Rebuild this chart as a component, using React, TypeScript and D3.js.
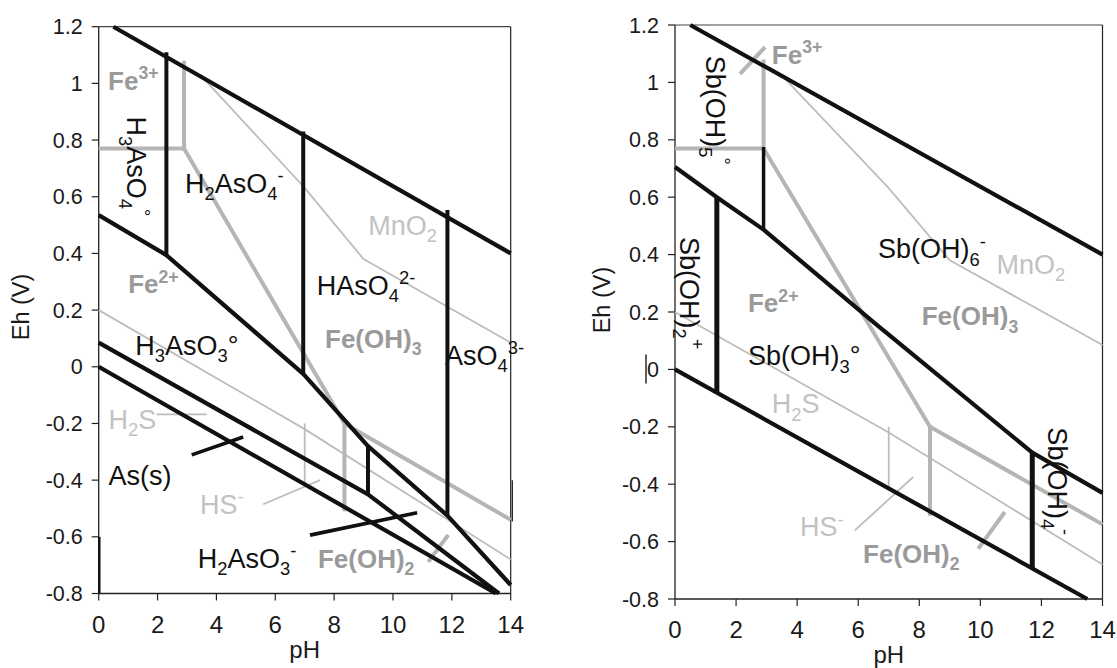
import React from "react";
import * as d3 from "d3";

type Pt = [number, number];

// ---- shared reference boundaries (pH, Eh in volts) ----
const waterUpper: Pt[] = [[0.5, 1.2], [14, 0.4]];
const waterLower: Pt[] = [[0, 0], [13.5, -0.8]];

// iron
const feFe3Fe2: Pt[] = [[0, 0.77], [2.9, 0.77]];
const feFe3FeOH3: Pt[] = [[2.9, 0.77], [2.9, 1.08]];
const feFeOH3Fe2: Pt[] = [[2.9, 0.77], [8.35, -0.2]];
const feFe2FeOH2: Pt[] = [[8.35, -0.2], [8.35, -0.51]];
const feFeOH3FeOH2: Pt[] = [[8.35, -0.2], [14, -0.54]];

// sulfur
const sSulfate: Pt[] = [[0, 0.2], [7, -0.22], [14, -0.68]];
const sH2sHs: Pt[] = [[7, -0.2], [7, -0.41]];

// manganese
const mnMnO2: Pt[] = [[3.45, 1.03], [6.97, 0.635], [9.0, 0.38], [14, 0.085]];

// ---- arsenic ----
const asV_III: Pt[] = [[0, 0.535], [2.3, 0.394], [6.95, -0.025], [9.15, -0.28], [11.85, -0.525], [14, -0.77]];
const asIII_s: Pt[] = [[0, 0.085], [9.15, -0.45], [13.6, -0.8]];
// [pH, Eh top, Eh bottom]
const asVerticals: [number, number, number][] = [
  [2.3, 1.11, 0.394],
  [6.95, 0.83, -0.025],
  [9.15, -0.28, -0.45],
  [11.85, 0.553, -0.525],
];
const asLeadersBlack: Pt[][] = [
  [[3.16, -0.311], [4.91, -0.248]],
  [[7.18, -0.594], [10.82, -0.515]],
];
const asLeadersThin: Pt[][] = [
  [[1.97, -0.168], [3.67, -0.168]],
  [[5.59, -0.485], [7.52, -0.4]],
];
const asLeadersThick: Pt[][] = [[[11.2, -0.688], [11.88, -0.593]]];

// ---- antimony ----
const sbV_III: Pt[] = [[0, 0.705], [1.37, 0.6], [2.9, 0.487], [6.5, 0.165], [11.7, -0.29], [14, -0.43]];
const sbVerticals: [number, number, number][] = [
  [1.37, 0.6, -0.081],
  [2.9, 0.775, 0.487],
  [11.7, -0.29, -0.693],
];
const sbLeadersThick: Pt[][] = [
  [[2.13, 1.03], [2.95, 1.123]],
  [[9.93, -0.625], [10.8, -0.497]],
];
const sbLeadersThin: Pt[][] = [[[5.89, -0.561], [7.8, -0.375]]];

// ticks
const xTicks = [0, 2, 4, 6, 8, 10, 12, 14];
const yTicks = [1.2, 1, 0.8, 0.6, 0.4, 0.2, 0, -0.2, -0.4, -0.6, -0.8];

// species labels: [text, pH, Eh, kind, rotation]
type Lab = [string, number, number, string, number];
const asLabels: Lab[] = [
  ["Fe^{3+}", 0.32, 0.977, "fe", 0],
  ["H_{3}AsO_{4}^{°}", 0.95, 0.883, "sp", 90],
  ["H_{2}AsO_{4}^{-}", 2.93, 0.613, "sp", 0],
  ["MnO_{2}", 9.16, 0.465, "lt", 0],
  ["HAsO_{4}^{2-}", 7.41, 0.254, "sp", 0],
  ["Fe^{2+}", 1.0, 0.26, "fe", 0],
  ["Fe(OH)_{3}", 7.69, 0.066, "fe", 0],
  ["AsO_{4}^{3-}", 11.77, 0.006, "sp", 0],
  ["H_{3}AsO_{3}°", 1.24, 0.042, "sp", 0],
  ["H_{2}S", 0.33, -0.22, "lt", 0],
  ["As(s)", 0.33, -0.417, "sp", 0],
  ["HS^{-}", 3.44, -0.519, "lt", 0],
  ["H_{2}AsO_{3}^{-}", 3.37, -0.71, "sp", 0],
  ["Fe(OH)_{2}", 7.45, -0.71, "fe", 0],
];
const sbLabels: Lab[] = [
  ["Fe^{3+}", 3.17, 1.065, "fe", 0],
  ["Sb(OH)_{5}^{°}", 1.015, 1.093, "sp", 90],
  ["Sb(OH)_{2}^{+}", 0.16, 0.461, "sp", 90],
  ["Sb(OH)_{6}^{-}", 6.65, 0.387, "sp", 0],
  ["MnO_{2}", 10.53, 0.334, "lt", 0],
  ["Fe(OH)_{3}", 8.08, 0.153, "fe", 0],
  ["Fe^{2+}", 2.39, 0.2, "fe", 0],
  ["Sb(OH)_{3}°", 2.39, 0.014, "sp", 0],
  ["H_{2}S", 3.17, -0.153, "lt", 0],
  ["HS^{-}", 4.09, -0.582, "lt", 0],
  ["Fe(OH)_{2}", 6.16, -0.676, "fe", 0],
  ["Sb(OH)_{4}^{-}", 12.22, -0.202, "sp", 90],
];

const FONT = "'Liberation Sans', Arial, Helvetica, sans-serif";
const BLACK = "#111";
const GREY_THICK = "#b5b5b5";
const GREY_THIN = "#bdbdbd";
const LABEL_FE = "#9a9a9a";
const LABEL_LT = "#c2c2c2";

type Part = { t: string; k: "n" | "sub" | "sup" };
function parse(s: string): Part[] {
  const out: Part[] = [];
  let i = 0;
  let buf = "";
  while (i < s.length) {
    const c = s[i];
    if ((c === "_" || c === "^") && s[i + 1] === "{") {
      if (buf) { out.push({ t: buf, k: "n" }); buf = ""; }
      const end = s.indexOf("}", i);
      out.push({ t: s.slice(i + 2, end), k: c === "_" ? "sub" : "sup" });
      i = end + 1;
    } else {
      buf += c;
      i++;
    }
  }
  if (buf) out.push({ t: buf, k: "n" });
  return out;
}

function Rich({ x, y, s, size, fill, weight, rotate }: any) {
  const parts = parse(s);
  let shift = 0;
  return (
    <text
      x={x}
      y={y}
      fill={fill}
      fontWeight={weight}
      fontFamily={FONT}
      fontSize={size}
      transform={rotate ? `rotate(${rotate},${x},${y})` : undefined}
    >
      {parts.map((p, i) => {
        const target = p.k === "sub" ? size * 0.27 : p.k === "sup" ? -size * 0.4 : 0;
        const dy = target - shift;
        shift = target;
        return (
          <tspan key={i} dy={dy} fontSize={p.k === "n" ? size : size * 0.68}>
            {p.t}
          </tspan>
        );
      })}
    </text>
  );
}

type Panel = {
  left: number; right: number; top: number; bottom: number;
  titleX: number; titleY: number; phY: number;
};

function Diagram({
  g, black, verticals, vWidths, leadBlack, leadThin, leadThick, labels, children,
}: {
  g: Panel; black: Pt[][]; verticals: [number, number, number][]; vWidths: number[];
  leadBlack: Pt[][]; leadThin: Pt[][]; leadThick: Pt[][]; labels: Lab[]; children?: any;
}) {
  const x = d3.scaleLinear().domain([0, 14]).range([g.left, g.right]);
  const y = d3.scaleLinear().domain([-0.8, 1.2]).range([g.bottom, g.top]);
  const line = d3.line<Pt>().x((d) => x(d[0])).y((d) => y(d[1]));
  const thick = [feFe3Fe2, feFe3FeOH3, feFeOH3Fe2, feFe2FeOH2, feFeOH3FeOH2, ...leadThick];
  const thin = [sSulfate, sH2sHs, mnMnO2, ...leadThin];
  return (
    <g>
      {/* frame */}
      <line x1={g.left} x2={g.right} y1={g.top} y2={g.top} stroke="#444" strokeWidth={1.2} />
      <line x1={g.right} x2={g.right} y1={g.top} y2={g.bottom} stroke="#222" strokeWidth={1.2} />
      <line x1={g.left} x2={g.left} y1={g.top} y2={g.bottom} stroke="#222" strokeWidth={1.3} />
      <line x1={g.left} x2={g.right} y1={g.bottom} y2={g.bottom} stroke="#222" strokeWidth={1.5} />
      {yTicks.map((v) => (
        <g key={"y" + v}>
          <line x1={g.left - 7} x2={g.left} y1={y(v)} y2={y(v)} stroke="#222" strokeWidth={1.2} />
          <text x={g.left - 16} y={y(v) + 7.5} textAnchor="end" fontFamily={FONT} fontSize={21.5} fill="#1a1a1a">
            {String(v)}
          </text>
        </g>
      ))}
      {xTicks.map((v) => (
        <g key={"x" + v}>
          <line x1={x(v)} x2={x(v)} y1={g.bottom} y2={g.bottom + 7} stroke="#222" strokeWidth={1.2} />
          <text x={x(v)} y={g.bottom + 39} textAnchor="middle" fontFamily={FONT} fontSize={24} fill="#1a1a1a">
            {String(v)}
          </text>
        </g>
      ))}
      <text
        x={g.titleX}
        y={g.titleY}
        transform={`rotate(-90,${g.titleX},${g.titleY})`}
        textAnchor="middle"
        fontFamily={FONT}
        fontSize={23.5}
        fill="#1a1a1a"
      >
        Eh (V)
      </text>
      <text x={(g.left + g.right) / 2} y={g.phY} textAnchor="middle" fontFamily={FONT} fontSize={24} fill="#1a1a1a">
        pH
      </text>

      {thin.map((d, i) => (
        <path key={"t" + i} d={line(d) || ""} fill="none" stroke={GREY_THIN} strokeWidth={1.8} />
      ))}
      {thick.map((d, i) => (
        <path key={"k" + i} d={line(d) || ""} fill="none" stroke={GREY_THICK} strokeWidth={4} />
      ))}
      {black.map((d, i) => (
        <path key={"b" + i} d={line(d) || ""} fill="none" stroke={BLACK} strokeWidth={4.2} strokeLinejoin="round" />
      ))}
      {verticals.map((v, i) => (
        <line key={"v" + i} x1={x(v[0])} x2={x(v[0])} y1={y(v[1])} y2={y(v[2])} stroke={BLACK} strokeWidth={vWidths[i]} />
      ))}
      {leadBlack.map((d, i) => (
        <path key={"l" + i} d={line(d) || ""} fill="none" stroke={BLACK} strokeWidth={3.6} />
      ))}
      {labels.map((l, i) => (
        <Rich
          key={"s" + i}
          x={x(l[1])}
          y={y(l[2])}
          s={l[0]}
          size={l[3] === "fe" ? 26 : 27}
          weight={l[3] === "fe" ? "bold" : "normal"}
          fill={l[3] === "fe" ? LABEL_FE : l[3] === "lt" ? LABEL_LT : BLACK}
          rotate={l[4]}
        />
      ))}
      {children && children(x, y)}
    </g>
  );
}

const leftPanel: Panel = { left: 98.7, right: 510.7, top: 26.7, bottom: 593.5, titleX: 29, titleY: 307, phY: 658 };
const rightPanel: Panel = { left: 675, right: 1102.5, top: 25, bottom: 599, titleX: 610, titleY: 300, phY: 663 };

export default function App() {
  return (
    <svg
      width={1117}
      height={668}
      viewBox="0 0 1117 668"
      style={{ position: "absolute", left: 0, top: 0, background: "#fff" }}
    >
      <rect width={1117} height={668} fill="#fff" />
      <Diagram
        g={leftPanel}
        black={[waterUpper, waterLower, asV_III, asIII_s]}
        verticals={asVerticals}
        vWidths={[4, 4, 4, 4]}
        leadBlack={asLeadersBlack}
        leadThin={asLeadersThin}
        leadThick={asLeadersThick}
        labels={asLabels}
      >
        {(x: any, y: any) => (
          <g>
            <line x1={x(0) + 0.6} x2={x(0) + 0.6} y1={y(-0.6)} y2={y(-0.8)} stroke={BLACK} strokeWidth={2.4} />
            <line x1={x(14) + 1.6} x2={x(14) + 1.6} y1={y(-0.4)} y2={y(-0.546)} stroke={BLACK} strokeWidth={1.2} />
          </g>
        )}
      </Diagram>
      <Diagram
        g={rightPanel}
        black={[waterUpper, waterLower, sbV_III]}
        verticals={sbVerticals}
        vWidths={[5, 3.5, 5]}
        leadBlack={[]}
        leadThin={sbLeadersThin}
        leadThick={sbLeadersThick}
        labels={sbLabels}
      >
        {(x: any, y: any) => (
          <line x1={x(0) - 29} x2={x(0) - 29} y1={y(0) - 15} y2={y(0) + 14} stroke="#1a1a1a" strokeWidth={1.4} />
        )}
      </Diagram>
    </svg>
  );
}
